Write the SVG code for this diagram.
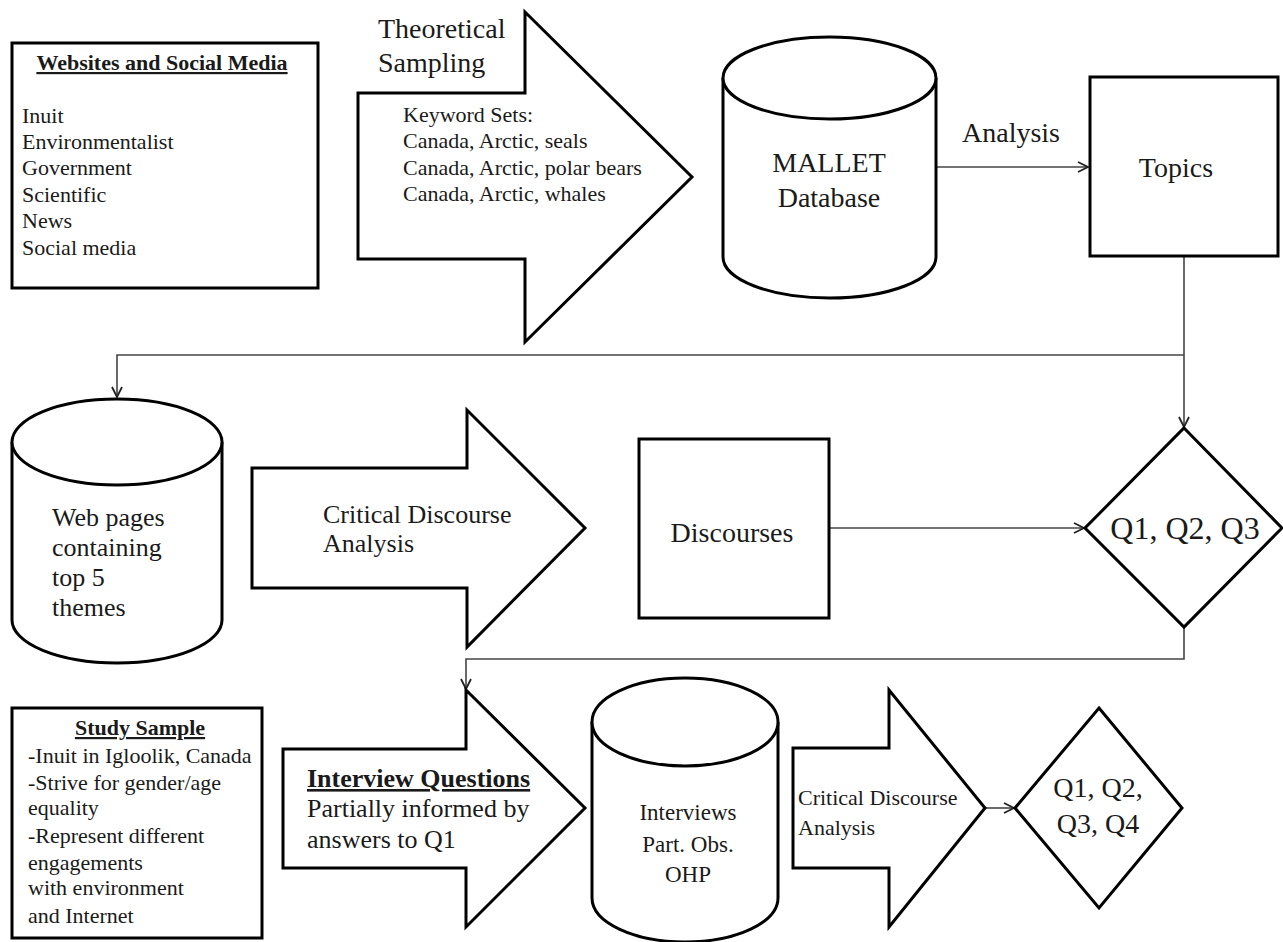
<svg xmlns="http://www.w3.org/2000/svg" width="1283" height="942" viewBox="0 0 1283 942">
<style>
.shape{fill:#fff;stroke:#000;stroke-width:3;stroke-linejoin:miter}
.conn{fill:none;stroke:#444;stroke-width:1.6}
text{font-family:"Liberation Serif","Times New Roman",serif;fill:#1a1a1a}
.t22{font-size:22px}
.t26{font-size:26px}
.t28{font-size:28px}
.b{font-weight:bold;text-decoration:underline}
.c{text-anchor:middle}
</style>
<defs>
<marker id="arr" viewBox="0 0 12 12" refX="11" refY="6" markerWidth="12" markerHeight="12" markerUnits="userSpaceOnUse" orient="auto">
<path d="M1,1 L11,6 L1,11" fill="none" stroke="#222" stroke-width="1.8"/>
</marker>
</defs>
<rect width="1283" height="942" fill="#fff"/>

<g id="connectors">
<path class="conn" d="M936,167 H1088" marker-end="url(#arr)"/>
<path class="conn" d="M1184,256 V427" marker-end="url(#arr)"/>
<path class="conn" d="M1184,355 H117 V397" marker-end="url(#arr)"/>
<path class="conn" d="M829,528 H1084" marker-end="url(#arr)"/>
<path class="conn" d="M1184,627 V659 H466 V689" marker-end="url(#arr)"/>
<path class="conn" d="M985,808 H1014" marker-end="url(#arr)"/>
</g>

<g id="websites">
<rect class="shape" x="12" y="43" width="306" height="245"/>
<text class="t22 b c" x="162" y="70">Websites and Social Media</text>
<text class="t22" x="22" y="123">Inuit</text>
<text class="t22" x="22" y="149">Environmentalist</text>
<text class="t22" x="22" y="175">Government</text>
<text class="t22" x="22" y="202">Scientific</text>
<text class="t22" x="22" y="228">News</text>
<text class="t22" x="22" y="255">Social media</text>
</g>

<g id="theoretical-sampling">
<path class="shape" d="M358,93 H525 V12 L692,177 L525,342 V259 H358 Z"/>
<text class="t28" x="378" y="38">Theoretical</text>
<text class="t28" x="378" y="72">Sampling</text>
<text class="t22" x="403" y="122">Keyword Sets:</text>
<text class="t22" x="403" y="148">Canada, Arctic, seals</text>
<text class="t22" x="403" y="175">Canada, Arctic, polar bears</text>
<text class="t22" x="403" y="201">Canada, Arctic, whales</text>
</g>

<g id="mallet">
<path class="shape" d="M723,78 V257 A106.5,41 0 0 0 936,257 V78 A106.5,41 0 0 0 723,78 Z"/>
<path class="shape" d="M723,78 A106.5,41 0 0 0 936,78" fill="none"/>
<text class="t28 c" x="829" y="172">MALLET</text>
<text class="t28 c" x="829" y="207">Database</text>
</g>

<g id="analysis-label">
<text class="t28" x="962" y="142">Analysis</text>
</g>

<g id="topics">
<rect class="shape" x="1090" y="77" width="188" height="179"/>
<text class="t28 c" x="1176" y="177">Topics</text>
</g>

<g id="webpages">
<path class="shape" d="M12,442 V620 A105,43 0 0 0 222,620 V442 A105,43 0 0 0 12,442 Z"/>
<path class="shape" d="M12,442 A105,43 0 0 0 222,442" fill="none"/>
<text class="t26" x="52" y="526">Web pages</text>
<text class="t26" x="52" y="556">containing</text>
<text class="t26" x="52" y="586">top 5</text>
<text class="t26" x="52" y="616">themes</text>
</g>

<g id="cda1">
<path class="shape" d="M252,468 H467 V410 L585,528 L467,647 V588 H252 Z"/>
<text class="t26" x="323" y="523">Critical Discourse</text>
<text class="t26" x="323" y="552">Analysis</text>
</g>

<g id="discourses">
<rect class="shape" x="639" y="439" width="190" height="179"/>
<text class="t28 c" x="732" y="542">Discourses</text>
</g>

<g id="q123">
<path class="shape" d="M1184,428 L1282,528 L1184,627 L1085,528 Z"/>
<text class="c" style="font-size:32px" x="1185" y="539">Q1, Q2, Q3</text>
</g>

<g id="study-sample">
<rect class="shape" x="12" y="708" width="250" height="230"/>
<text class="t22 b c" x="140" y="735">Study Sample</text>
<text class="t22" x="28" y="763">-Inuit in Igloolik, Canada</text>
<text class="t22" x="28" y="790">-Strive for gender/age</text>
<text class="t22" x="28" y="815">equality</text>
<text class="t22" x="28" y="843">-Represent different</text>
<text class="t22" x="28" y="870">engagements</text>
<text class="t22" x="28" y="895">with environment</text>
<text class="t22" x="28" y="923">and Internet</text>
</g>

<g id="interview-questions">
<path class="shape" d="M283,749 H466 V690 L585,808 L466,927 V868 H283 Z"/>
<text class="t26 b" x="307" y="787">Interview Questions</text>
<text class="t26" x="307" y="817">Partially informed by</text>
<text class="t26" x="307" y="848">answers to Q1</text>
</g>

<g id="interviews">
<path class="shape" d="M592,722 V898 A93,44 0 0 0 778,898 V722 A93,44 0 0 0 592,722 Z"/>
<path class="shape" d="M592,722 A93,44 0 0 0 778,722" fill="none"/>
<text class="c" style="font-size:23px" x="688" y="820">Interviews</text>
<text class="c" style="font-size:23px" x="688" y="852">Part. Obs.</text>
<text class="c" style="font-size:23px" x="688" y="882">OHP</text>
</g>

<g id="cda2">
<path class="shape" d="M793,748 H889 V690 L985,808 L889,927 V868 H793 Z"/>
<text class="t22" x="798" y="805">Critical Discourse</text>
<text class="t22" x="798" y="835">Analysis</text>
</g>

<g id="q1234">
<path class="shape" d="M1099,708 L1182,808 L1099,908 L1015,808 Z"/>
<text class="t28 c" x="1098" y="797">Q1, Q2,</text>
<text class="t28 c" x="1098" y="833">Q3, Q4</text>
</g>
</svg>
